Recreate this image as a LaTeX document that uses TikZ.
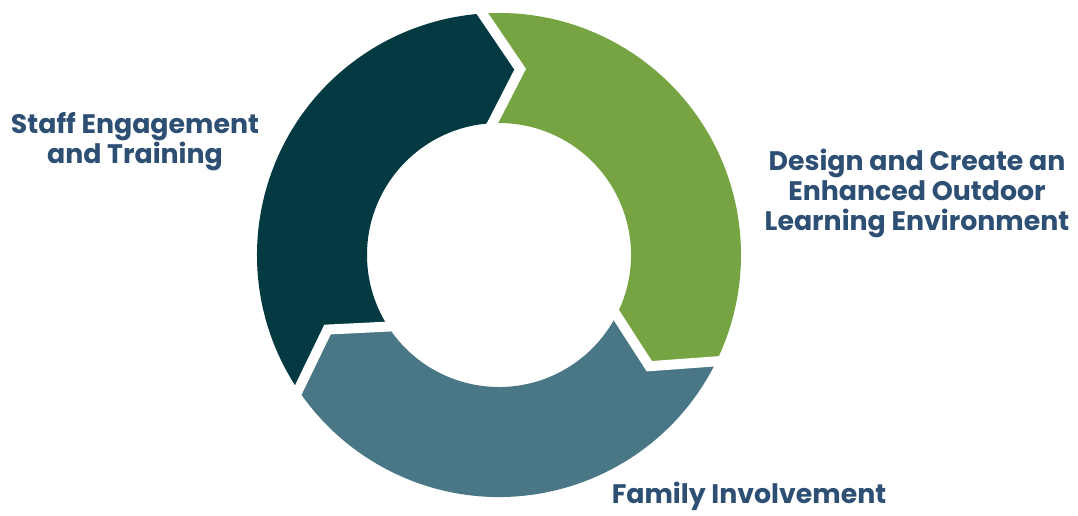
\documentclass[tikz,border=0pt]{standalone}
\usepackage{fontspec}
\setmainfont{Poppins}
\definecolor{segdark}{HTML}{033A42}
\definecolor{seggreen}{HTML}{77A443}
\definecolor{segteal}{HTML}{497785}
\definecolor{labelblue}{HTML}{2D4F73}
\tikzset{
  lbl/.style={text=labelblue, font=\fontsize{26.8}{30}\selectfont\bfseries, align=center, inner sep=0pt, anchor=base},
  gapline/.style={draw=white, line width=10pt, line join=miter, line cap=butt}
}
\begin{document}
\begin{tikzpicture}[x=1pt,y=1pt]
\useasboundingbox (0,0) rectangle (1078,515);
\begin{scope}[shift={(499,260)}]
  % green segment: 95 -> -25
  \fill[seggreen] (95:242) arc[start angle=95, end angle=-25, radius=242]
    -- (-36.5:187) -- (-25:132) arc[start angle=-25, end angle=95, radius=132]
    -- (83.5:187) -- cycle;
  % teal segment: -25 -> -145
  \fill[segteal] (-25:242) arc[start angle=-25, end angle=-145, radius=242]
    -- (-156.5:187) -- (-145:132) arc[start angle=-145, end angle=-25, radius=132]
    -- (-36.5:187) -- cycle;
  % dark segment: -145 -> -265
  \fill[segdark] (-145:242) arc[start angle=-145, end angle=-265, radius=242]
    -- (-276.5:187) -- (-265:132) arc[start angle=-265, end angle=-145, radius=132]
    -- (-156.5:187) -- cycle;
  % gaps
  \draw[gapline] (95:250) -- (83.5:187) -- (95:124);
  \draw[gapline] (-25:250) -- (-36.5:187) -- (-25:124);
  \draw[gapline] (-145:250) -- (-156.5:187) -- (-145:124);
\end{scope}
\node[lbl] (staff) at (135,352) {Staff Engagement\\and Training};
\node[lbl] (design) at (917,285) {Design and Create an\\Enhanced Outdoor\\Learning Environment};
\node[lbl] (family) at (749,12) {Family Involvement};
\end{tikzpicture}
\end{document}
